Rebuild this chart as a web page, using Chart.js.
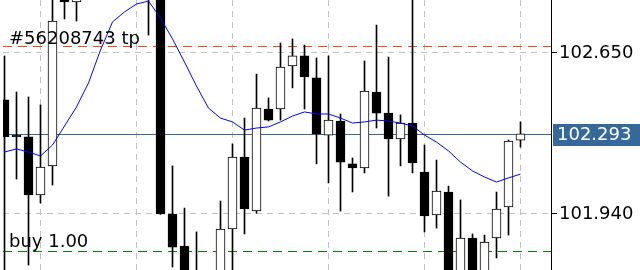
<!DOCTYPE html>
<html>
<head>
<meta charset="utf-8">
<script src="https://cdn.jsdelivr.net/npm/chart.js@4/dist/chart.umd.min.js"></script>
<style>
html,body{margin:0;padding:0;background:#ffffff;overflow:hidden;}
#wrap{width:640px;height:270px;position:relative;}
</style>
</head>
<body>
<div id="wrap"><canvas id="c" width="640" height="270"></canvas></div>
<script>
// ---- data ----
const opens  = [102.443,102.288,102.280,102.024,102.152,102.950,102.875,102.970,103.030,103.050,103.020,102.980,103.000,102.920,101.940,101.799,101.670,101.640,101.650,101.874,102.191,101.953,102.403,102.403,102.593,102.637,102.540,102.288,102.350,102.161,102.143,102.478,102.385,102.271,102.341,102.125,101.936,102.037,101.670,101.834,101.680,101.834,101.971,102.266];
const highs  = [102.637,102.478,102.456,102.421,102.928,102.994,103.016,103.060,103.100,103.120,103.080,103.040,103.040,102.950,102.152,101.966,101.861,101.680,101.997,102.249,102.363,102.557,102.452,102.694,102.712,102.685,102.628,102.637,102.381,102.187,102.615,102.773,102.632,102.377,102.900,102.244,102.178,102.063,102.002,101.852,101.847,102.037,102.266,102.346];
const lows   = [101.649,102.094,101.715,101.988,102.068,102.800,102.791,102.930,102.980,102.990,102.940,102.920,102.729,101.938,101.706,101.620,101.600,101.590,101.620,101.685,101.852,101.944,102.350,102.354,102.496,102.403,102.161,102.077,101.953,102.037,102.121,102.319,102.019,102.152,102.121,101.861,101.878,101.640,101.650,101.660,101.660,101.746,101.847,102.235];
const closes = [102.280,102.280,102.024,102.147,102.791,102.875,102.972,103.030,103.050,103.020,102.980,103.000,102.920,101.940,101.794,101.660,101.640,101.620,101.874,102.191,101.962,102.407,102.354,102.588,102.637,102.544,102.293,102.354,102.169,102.143,102.482,102.385,102.271,102.341,102.165,101.931,102.041,101.670,101.834,101.680,101.816,101.962,102.262,102.293];
const maValues = [102.213,102.227,102.213,102.196,102.244,102.328,102.412,102.518,102.663,102.787,102.831,102.866,102.879,102.804,102.712,102.610,102.504,102.407,102.363,102.346,102.310,102.319,102.324,102.346,102.372,102.390,102.381,102.381,102.363,102.341,102.346,102.354,102.350,102.341,102.328,102.288,102.257,102.218,102.169,102.130,102.103,102.081,102.099,102.116];
const yTicks = [101.940, 102.650];
const xGridIndices = [3, 11, 19, 27, 35, 43];
const currentPrice = 102.293;
const tpLevel = 102.681;
const tpLabel = '#56208743 tp';
const buyLevel = 101.777;
const buyLabel = 'buy 1.00';
const yMin = 101.693, yMax = 102.8837;

// ---- build ----
const idx = opens.map((_, i) => i);
const bodyData = idx.map(i => ({x: i, y: [opens[i], closes[i]]}));
const wickData = idx.map(i => ({x: i, y: [lows[i], highs[i]]}));
const maData = idx.map(i => ({x: i, y: maValues[i]}));
const FONT = '"DejaVu Sans", sans-serif';

const levelsPlugin = {
  id: 'levels',
  beforeDatasetsDraw(chart) {
    const {ctx, chartArea: a, scales: {y}} = chart;
    ctx.save();
    ctx.beginPath(); ctx.rect(a.left, a.top, a.right - a.left, a.bottom - a.top); ctx.clip();
    const hline = (v, color, dash) => {
      const py = Math.round(y.getPixelForValue(v)) + 0.5;
      ctx.strokeStyle = color; ctx.lineWidth = 1; ctx.setLineDash(dash);
      ctx.beginPath(); ctx.moveTo(a.left, py); ctx.lineTo(a.right, py); ctx.stroke();
    };
    hline(currentPrice, '#36689b', []);
    hline(tpLevel, '#ff4500', [9, 6]);
    hline(buyLevel, '#008000', [9, 6]);
    ctx.restore();
  },
  afterDatasetsDraw(chart) {
    const {ctx, chartArea: a, scales: {y}} = chart;
    ctx.save();
    ctx.beginPath(); ctx.rect(a.left, a.top, a.right - a.left, a.bottom - a.top); ctx.clip();
    ctx.font = '18px ' + FONT;
    ctx.fillStyle = '#000';
    ctx.textAlign = 'left';
    ctx.textBaseline = 'alphabetic';
    ctx.fillText(tpLabel, 9, Math.round(y.getPixelForValue(tpLevel)) + 0.5 - 3);
    ctx.fillText(buyLabel, 9, Math.round(y.getPixelForValue(buyLevel)) + 0.5 - 4.5);
    ctx.restore();
  },
  afterDraw(chart) {
    const {ctx, chartArea: a, scales: {y}} = chart;
    const py = Math.round(y.getPixelForValue(currentPrice)) + 0.5;
    ctx.save();
    ctx.fillStyle = '#36689b';
    ctx.fillRect(a.right + 2, py - 10.5, 640 - a.right - 2, 22);
    ctx.font = '18px ' + FONT;
    ctx.fillStyle = '#ffffff';
    ctx.textAlign = 'left';
    ctx.textBaseline = 'middle';
    ctx.fillText(currentPrice.toFixed(3), a.right + 6, py + 1);
    ctx.restore();
  }
};

new Chart(document.getElementById('c'), {
  type: 'bar',
  data: {
    datasets: [
      {type: 'line', data: maData, borderColor: '#0000ff', borderWidth: 1, pointRadius: 0, tension: 0, order: 0},
      {type: 'bar', data: bodyData, backgroundColor: idx.map(i => closes[i] >= opens[i] ? '#ffffff' : '#000000'),
        borderColor: '#000000', borderWidth: 1, borderSkipped: false, barThickness: 9, grouped: false, order: 1},
      {type: 'bar', data: wickData, backgroundColor: '#000000', borderWidth: 0, barThickness: 1, grouped: false, order: 2}
    ]
  },
  options: {
    responsive: false,
    devicePixelRatio: 1,
    animation: false,
    events: [],
    layout: {padding: {left: 3, right: 0, top: 0, bottom: 0}},
    plugins: {legend: {display: false}, tooltip: {enabled: false}},
    scales: {
      x: {
        type: 'linear', min: -0.125, max: -0.125 + 548 / 12, offset: false,
        grid: {display: true, color: '#c0c0c0', lineWidth: 1, drawTicks: false, offset: false},
        border: {display: false, dash: [6, 5]},
        ticks: {display: false},
        afterBuildTicks: s => { s.ticks = xGridIndices.map(v => ({value: v})); },
        afterFit: s => { s.height = 0; s.paddingLeft = 0; s.paddingRight = 0; }
      },
      y: {
        type: 'linear', position: 'right', min: yMin, max: yMax, beginAtZero: false, bounds: 'data',
        grid: {display: true, color: '#c0c0c0', lineWidth: 1, drawTicks: true, tickLength: 6, tickColor: '#000', tickBorderDash: []},
        border: {display: true, color: '#000', width: 1, dash: [6, 5]},
        ticks: {color: '#000', font: {family: 'DejaVu Sans', size: 18}, padding: 2, callback: v => Number(v).toFixed(3)},
        afterBuildTicks: s => { s.ticks = yTicks.map(v => ({value: v})); },
        afterFit: s => { s.width = 89; s.paddingTop = 0; s.paddingBottom = 0; }
      }
    }
  },
  plugins: [levelsPlugin]
});
</script>
</body>
</html>
